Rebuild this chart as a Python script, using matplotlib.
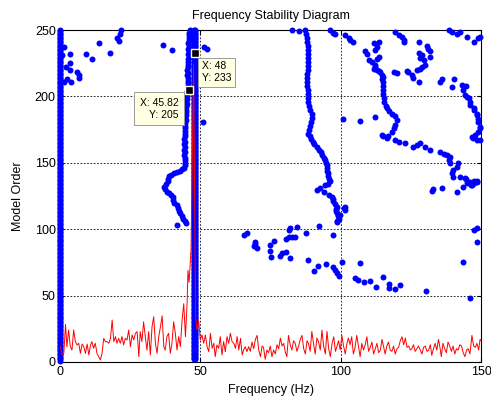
import numpy as np
import matplotlib
matplotlib.use("Agg")
import matplotlib.pyplot as plt

plt.rcParams["font.family"] = ["Liberation Sans", "DejaVu Sans"]

# straight columns of stable poles: frequency, first and last model order
col_freq = [0.1, 47.7, 48.1]
col_lo = [1, 2, 2]
col_hi = [250, 250, 250]

# drifting mode near 45 Hz
b45_f = [46.3, 45.9, 46.1, 45.8, 46.0, 45.7, 45.9, 45.7, 45.8, 45.6, 45.8, 45.5, 45.7, 45.5,
         45.6, 45.4, 45.6, 45.4, 45.6, 45.5, 45.7, 45.6, 45.8, 45.4, 45.3, 45.2, 45.3, 45.0,
         45.1, 44.9, 45.0, 44.8, 44.9, 44.7, 44.8, 44.6, 44.7, 44.5, 44.6, 44.4, 44.5, 44.3,
         44.4, 44.3, 44.4, 44.2, 44.4, 44.3, 44.5, 44.4, 44.6, 44.5, 44.3, 43.6, 42.6, 41.6,
         40.6, 39.6, 38.9, 38.4, 38.6, 37.8, 37.2, 37.4, 38.2, 39.0, 39.6, 40.4, 40.1, 40.8,
         41.6, 42.0, 42.3, 42.9, 43.3, 43.8, 44.4, 44.8, 41.8]
b45_o = [250, 248, 246, 244, 242, 240, 238, 236, 234, 232, 230, 228, 226, 224,
         222, 220, 218, 216, 214, 212, 210, 208, 206, 204, 202, 200, 198, 196,
         194, 192, 190, 188, 186, 184, 182, 180, 178, 176, 174, 172, 170, 168,
         166, 164, 162, 160, 158, 156, 154, 152, 150, 148, 146, 145, 144, 143,
         142, 141, 140, 138, 136, 134, 132, 130, 128, 127, 126, 124, 122, 120,
         118, 116, 114, 112, 110, 108, 106, 105, 103]

# mode near 88-98 Hz
b90_f = [87.4, 87.6, 87.9, 88.1, 88.3, 88.4, 88.3, 88.2, 88.3, 88.4, 88.2, 88.0, 88.0, 88.0,
         88.1, 88.2, 88.3, 88.4, 88.5, 88.7, 89.2, 89.6, 89.7, 89.4, 89.0, 88.6, 88.5, 88.9,
         89.5, 90.0, 90.6, 91.4, 92.2, 92.8, 93.4, 93.9, 94.3, 94.7, 95.0, 95.1, 95.2, 95.3,
         95.5, 95.9, 96.2, 95.6, 94.5, 92.7, 91.5, 93.9, 95.8, 96.9, 97.1, 97.3, 98.0, 98.6,
         98.4, 98.2, 98.6, 99.0, 99.2, 98.8, 98.6, 101.6, 101.6, 99.8, 101.0]
b90_o = [250, 247, 244, 241, 238, 235, 232, 229, 226, 223, 220, 217, 214, 211,
         208, 205, 202, 199, 196, 193, 190, 187, 184, 181, 178, 175, 172, 170,
         168, 166, 164, 162, 160, 158, 156, 154, 152, 150, 148, 146, 144, 142,
         140, 138, 136, 134, 133, 131, 129.5, 128, 126, 124.5, 123, 121, 119, 117,
         115, 114, 112, 110, 108, 106, 105.6, 117, 114.5, 110.7, 115.7]

# mode near 110-120 Hz and its continuation towards 148 Hz
b115_f = [113.5, 111.7, 112.9, 112.3, 108.7, 109.3, 113.5, 112.9, 109.9, 111.1, 112.3, 112.3,
          111.7, 112.9, 113.5, 114.1, 114.7, 115.2, 114.7, 115.0, 115.2, 115.0, 115.2, 115.3,
          115.5, 116.0, 116.6, 117.2, 118.2, 119.4, 120.0, 119.4, 118.8, 118.2, 117.0, 116.4,
          115.2, 114.7, 119.4, 120.6, 123.0, 125.9, 127.1, 128.3, 130.0, 131.8, 135.4, 136.6,
          137.8, 139.0, 138.4, 139.0, 141.9, 141.3, 140.1, 139.6, 140.1, 142.5, 144.3, 146.1,
          147.3, 148.5, 146.7, 144.9, 144.7]
b115_o = [241, 240, 237, 235, 234, 232, 230, 228.5, 227.5, 226, 223.5, 222,
          221, 220, 219.5, 218.5, 216.5, 215, 213, 211, 208, 205, 202, 199,
          196, 193, 191, 189, 187, 185, 182, 178.5, 176, 173, 170, 168.4,
          170, 171, 167, 166, 164.6, 162, 163.4, 164.6, 162, 159.6, 158.4, 157,
          155.9, 154.6, 152, 149.6, 149.6, 147, 144.6, 142, 139.5, 139.5, 138.3, 135.7,
          135, 135.7, 133, 134.5, 137.6]

# mode near 125-132 Hz
b128_f = [128.0, 130.7, 130.9, 131.6, 131.9, 127.7, 128.9, 128.3, 129.5, 130.0, 128.9, 128.3,
          127.1, 124.1, 123.6, 125.3, 125.9, 127.7]
b128_o = [240.7, 238, 236, 234, 230, 232.4, 231, 228.7, 227.4, 224, 222.4, 221,
          219.9, 218.6, 219.4, 216, 213.6, 211]

# mode near 144-150 Hz
b146_f = [144.7, 143.1, 143.7, 144.3, 144.9, 145.5, 146.1, 146.1, 147.3, 147.3, 148.5, 148.5,
          149.0, 149.0, 149.6, 149.6, 149.0, 147.9, 147.3, 147.0, 148.5, 149.6, 146.7]
b146_o = [208, 208.6, 204.8, 201, 199.8, 198.5, 195.5, 193.5, 191, 189.8, 187, 186,
          183, 181, 177, 176, 173.4, 171, 169.7, 168.4, 167, 167, 169.7]

# scattered poles at high model orders
hi_f = [1.4, 0.8, 3.7, 2.0, 3.5, 3.7, 2.6, 4.1, 1.4, 6.1, 6.7, 6.7, 9.4, 11.5, 13.8, 17.7,
        20.4, 21.3, 21.8, 20.9, 36.7, 39.9, 51.4, 52.4, 51.0, 82.6, 85.0, 96.0, 97.4, 98.0,
        101.6, 102.8, 103.4, 104.3, 119.4, 120.6, 121.8, 122.4, 122.6, 118.8, 120.0,
        100.8, 106.9, 112.3, 138.4, 139.6, 141.3, 142.5, 144.9, 147.3, 149.0, 149.6,
        136.0, 135.2, 139.6, 140.4, 133.0, 132.5, 136.0, 141.3, 143.7, 146.4, 147.3, 148.5]
hi_o = [237.4, 231, 232, 222, 225, 220, 213, 211, 211, 218.6, 216, 214, 231.7, 228, 240, 233,
        243.7, 247, 250, 242, 239, 235, 237.4, 235.5, 181, 250, 249, 250, 248, 246.7,
        246, 244, 242.5, 241, 248.7, 246, 245, 242.5, 241, 218.6, 217.4,
        183, 181.7, 184.2, 250, 248.7, 247.4, 248.7, 245, 241.2, 243.7, 245,
        213, 210.6, 207, 213, 130, 129, 131, 128, 132, 133, 136, 136.5]

# scattered poles at low model orders
lo_f = [65.4, 66.6, 69.6, 69.0, 70.2, 69.6, 74.7, 75.2, 74.9, 76.1, 78.2, 79.1, 80.6, 80.5,
        81.4, 82.6, 83.8, 81.4, 81.8, 84.4, 82.0, 87.7, 88.2, 90.3, 91.9, 92.1, 94.8, 97.4,
        97.2, 98.0, 98.6, 99.2, 100.6, 105.2, 106.3, 108.1, 110.5, 112.6, 115.2, 117.3,
        117.3, 119.4, 121.2, 106.9, 130.4, 143.7, 146.1, 147.3, 148.5, 148.5]
lo_o = [96, 97, 89, 87, 85.6, 90, 83.6, 79.3, 88, 91, 79.8, 81.8, 83, 92.4,
        93.9, 93.9, 93.9, 99.4, 101, 101.9, 78, 96.9, 76.8, 68.8, 72.5, 102.6, 73.8, 96,
        71.8, 69.3, 66.8, 64.8, 75.5, 63, 61.7, 60.2, 61, 56.5, 63.8, 58.7,
        55.5, 55, 58, 74.8, 53.7, 75.5, 48, 99.4, 101, 90]

# scaled spectrum drawn along the bottom
spec_f = [0.2, 0.8, 1.4, 2.0, 2.5, 3.1, 3.7, 4.3, 4.9, 5.5, 6.1, 6.7, 7.3, 7.9, 8.5, 9.1,
          9.7, 10.3, 10.9, 11.4, 12.0, 12.6, 13.2, 13.8, 14.4, 15.0, 15.6, 16.2, 16.8, 17.4,
          18.0, 18.6, 19.2, 19.8, 20.3, 20.9, 21.5, 22.1, 22.7, 23.3, 23.9, 24.5, 25.1, 25.7,
          26.3, 26.9, 27.5, 28.1, 28.6, 29.2, 29.8, 30.4, 31.0, 31.6, 32.2, 32.8, 33.4, 34.0,
          34.6, 35.2, 35.8, 36.4, 37.0, 37.5, 38.1, 38.7, 39.3, 39.9, 40.5, 41.1, 41.7, 42.3,
          42.9, 43.5, 44.1, 44.7,
          45.3, 45.6, 46.0, 46.7, 47.6, 48.3, 48.8, 49.4,
          50.0, 50.6, 51.2, 51.8, 52.4, 53.0, 53.6, 54.2, 54.8, 55.3, 55.9, 56.5, 57.1, 57.7,
          58.3, 58.9, 59.5, 60.1, 60.7, 61.3, 61.9, 62.5, 63.1, 63.7, 64.3, 64.9, 65.4, 66.0,
          66.6, 67.2,
          67.8, 68.4, 69.0, 69.6, 70.2, 70.8, 71.4, 72.0, 72.5, 73.1, 73.7, 74.3, 74.9, 75.5,
          76.1, 76.7, 77.3, 77.9, 78.5, 79.1, 79.7, 80.2, 80.8, 81.4, 82.0, 82.6, 83.2, 83.8,
          84.4, 85.0, 85.6, 86.2, 86.8, 87.4, 88.0, 88.5, 89.1, 89.7, 90.3, 90.9, 91.5, 92.1,
          92.7, 93.3, 93.9, 94.5, 95.1, 95.7, 96.3, 96.9, 97.5, 98.1, 98.7,
          99.2, 99.8, 100.4, 101.0, 101.6, 102.2, 102.7, 103.3, 103.9, 104.5, 105.1, 105.7,
          106.3, 106.9, 107.5, 108.1, 108.7, 109.3, 109.9, 110.5, 111.1, 111.7, 112.3, 112.9,
          113.5, 114.1, 114.7, 115.3, 115.8, 116.4, 117.0, 117.6, 118.2, 118.8, 119.4, 120.0,
          120.6, 121.2, 121.8, 122.4, 123.0, 123.6, 124.2, 124.8, 125.3, 125.9, 126.5, 127.1,
          127.7, 128.3, 128.9, 129.5, 130.1, 130.7, 131.3, 131.9, 132.4, 133.0, 133.6, 134.2,
          134.8, 135.4, 135.8, 136.4, 137.0, 137.6, 138.2, 138.8, 139.4, 140.0, 140.6, 141.2,
          141.8, 142.4, 143.0, 143.6, 144.2, 144.8, 145.4, 146.0, 146.7, 147.3, 147.9, 148.5,
          149.1, 149.6, 150.0]
spec_v = [11.5, 5.3, 6.5, 28.3, 11.5, 24.1, 11.5, 9, 24.1, 15.3,
          12.8, 14.1, 6.5, 13.5, 11.5, 6.5, 13.5, 5.3, 12.8, 15.3,
          10.3, 14.1, 6.5, 4, 1.5, 6.5, 17.8, 15.3, 15.3, 14.1,
          17.8, 31.6, 15.3, 19.1, 14.1, 17.8, 14.1, 19.1, 12.8, 17.8,
          16.6, 24.1, 11.5, 20.3, 16.6, 21.6, 22.8, 4, 22.8, 15.3,
          30.3, 19.1, 9, 22.8, 5.3, 26.6, 34.1, 14.1, 6.5, 19.1,
          26.6, 34.7, 11.5, 9, 19.1, 21.6, 6.5, 14.1, 30.3, 21.6,
          9, 19.1, 11.5, 31.6, 43.9, 19.1,
          45, 69, 60, 85, 224, 35, 24, 31,
          16.6, 20.3, 14.1, 20.3, 11.5, 7.8, 21.6, 10.3, 14.1, 4,
          12.8, 10.3, 19.1, 5.3, 15.3, 7.8, 19.1, 14.1, 21.6, 15.3,
          14.1, 10.3, 19.1, 9, 17.8, 5.3, 9, 11.5, 7.8, 11.5,
          8, 15, 10, 17, 20, 9, 4, 12, 11, 2, 9, 7, 12, 4,
          9, 6, 13, 10, 18, 12, 14, 8, 4, 20, 13, 9, 16, 14,
          8, 12, 17, 20, 10, 6, 16, 14, 8, 23, 14, 6, 18, 15,
          9, 24, 12, 6, 23, 10, 4, 14, 19, 8, 12,
          16, 9, 20, 12, 6, 14, 18, 13, 19, 6, 11, 20,
          12, 4, 14, 9, 13, 19, 8, 11, 15, 6, 10, 14,
          7, 9, 17, 11, 6, 12, 15, 9, 8, 12, 6, 10,
          11, 16, 19, 13, 18, 11, 12, 9, 10, 13, 8, 10,
          12, 9, 6, 11, 12, 8, 9, 13, 5, 10, 14, 9,
          17, 10, 4, 14, 10, 7, 15, 12, 8, 12, 6, 10,
          9, 13, 12, 7, 4, 9, 10, 6, 20, 12, 11, 14,
          9, 17, 16]

# data tips
tip_f = [48, 45.82]
tip_o = [233, 205]

fig = plt.figure(figsize=(4.91, 3.98), dpi=100)
ax = fig.add_axes([0.122, 0.0905, 0.858, 0.834])

dot = dict(ls="none", marker="o", ms=4.3, mfc="#0000ff", mec="#0000ff", mew=0, clip_on=False, zorder=3)
for f, lo, hi in zip(col_freq, col_lo, col_hi):
    orders = np.arange(lo, hi + 1)
    ax.plot(np.full(orders.size, f), orders, **dot)
for fs, os_ in [(b45_f, b45_o), (b90_f, b90_o), (b115_f, b115_o), (b128_f, b128_o),
                (b146_f, b146_o), (hi_f, hi_o), (lo_f, lo_o)]:
    ax.plot(fs, os_, **dot)

ax.plot(spec_f, spec_v, color="#ff0000", lw=0.7, zorder=4)

ax.plot(tip_f, tip_o, ls="none", marker="s", ms=6, mfc="black", mec="#ffffe1", mew=1.0, zorder=6)
box = dict(boxstyle="square,pad=0.35", fc="#ffffe1", ec="#9a9a9a", lw=0.7)
ax.text(50.6, 226.5, "X: 48\nY: 233", fontsize=7.5, ha="left", va="top",
        linespacing=1.25, bbox=box, zorder=7)
ax.text(42.2, 199, "X: 45.82\nY: 205", fontsize=7.5, ha="right", va="top",
        multialignment="right", linespacing=1.25,
        bbox=dict(boxstyle="square,pad=0.55", fc="#ffffe1", ec="#9a9a9a", lw=0.7), zorder=7)

ax.set_xlim(0, 150)
ax.set_ylim(0, 250)
ax.set_xticks([0, 50, 100, 150])
ax.set_yticks([0, 50, 100, 150, 200, 250])
ax.grid(True, color="black", ls=(0, (2, 2)), lw=0.6)
ax.set_axisbelow(True)
ax.tick_params(direction="in", length=3, labelsize=9, top=True, right=True, pad=3)
for s in ax.spines.values():
    s.set_linewidth(0.8)
ax.set_title("Frequency Stability Diagram", fontsize=9, pad=8)
ax.set_xlabel("Frequency (Hz)", fontsize=9, labelpad=4)
ax.set_ylabel("Model Order", fontsize=9, labelpad=8)

fig.savefig("out.png", dpi=100)
